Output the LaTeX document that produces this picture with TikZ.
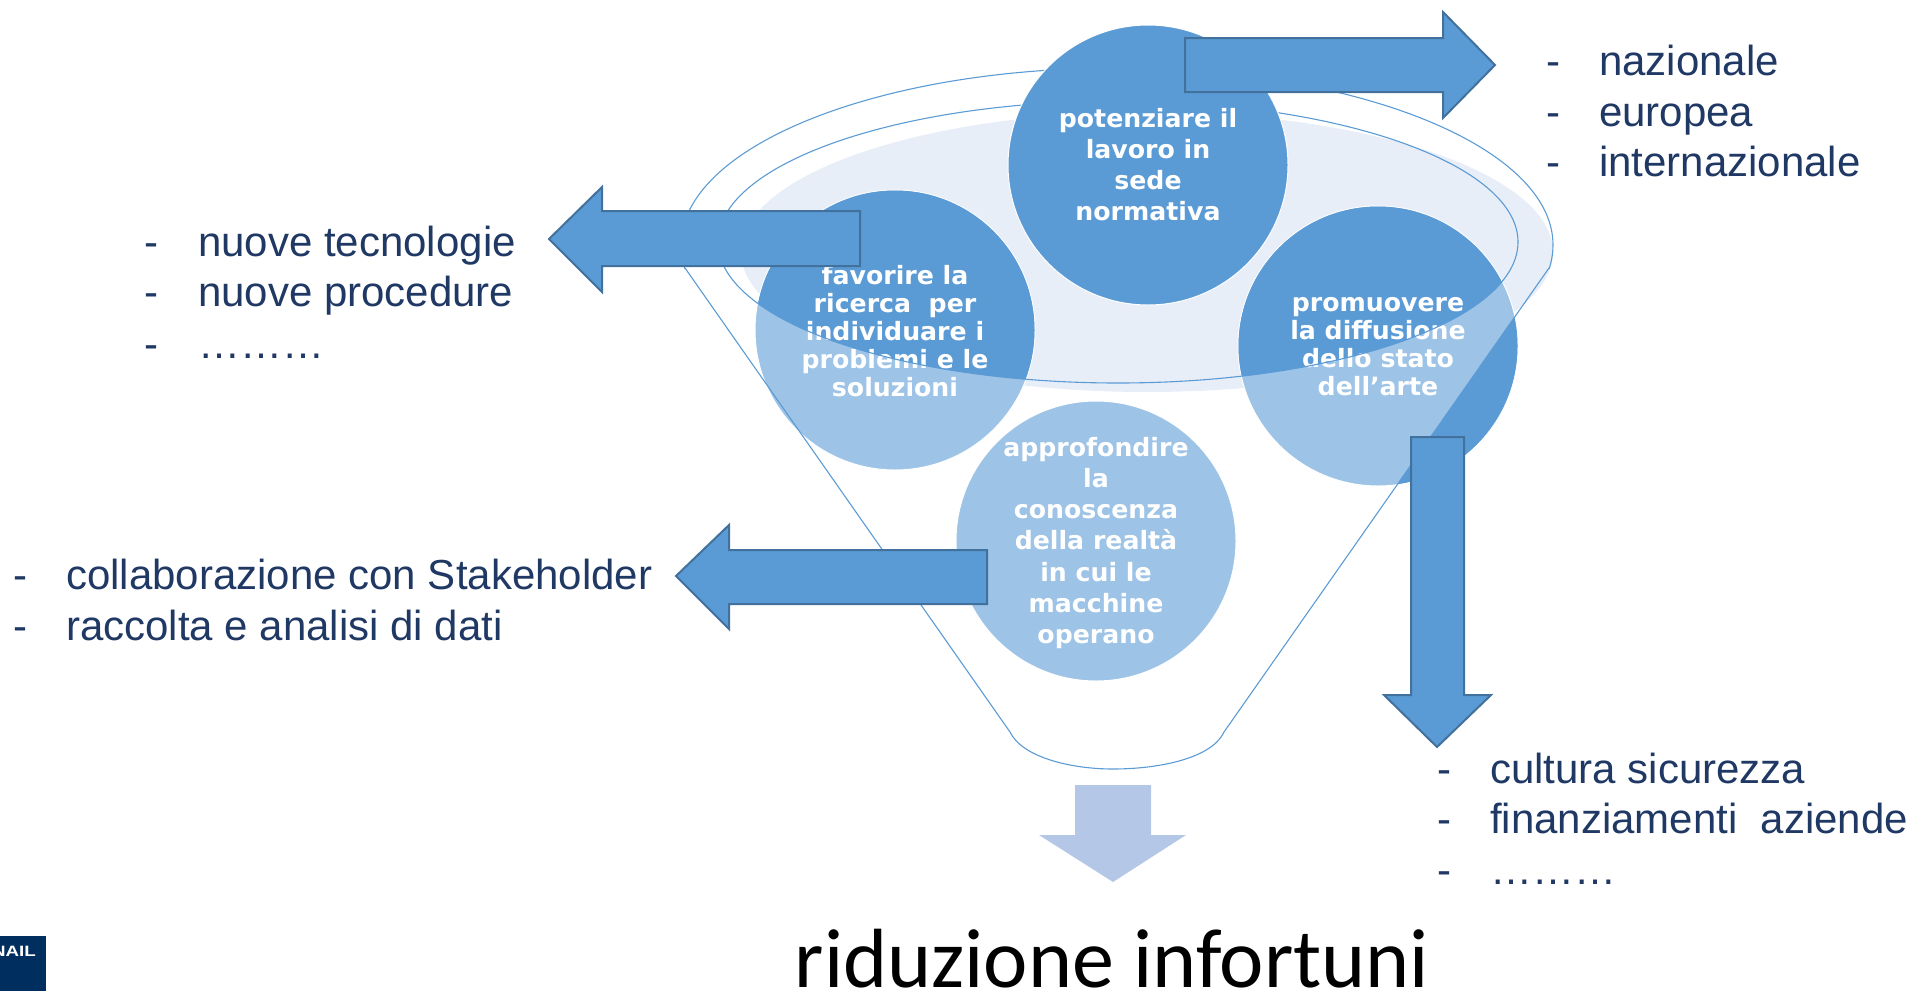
\documentclass[tikz,border=0pt]{standalone}
\usepackage{fontspec}
\setmainfont{Liberation Sans}
\newfontfamily\circlefont{DejaVu Sans}
\newfontfamily\resultfont{Carlito}
\definecolor{darkblue}{HTML}{5B9BD5}
\definecolor{lightblue}{HTML}{9DC3E6}
\definecolor{paleblue}{HTML}{E8EEF8}
\definecolor{edgeblue}{HTML}{41719C}
\definecolor{softblue}{HTML}{B4C7E7}
\definecolor{navytext}{HTML}{203864}
\definecolor{logoblue}{HTML}{002F5F}
\tikzset{
  disc/.style={circle,minimum size=280pt,inner sep=0pt,fill=lightblue,draw=white,line width=1pt},
  disctext/.style={text=white,align=center,font=\circlefont\bfseries\fontsize{25.2}{#1}\selectfont},
  funnelline/.style={draw=darkblue,line width=1.1pt},
  bluearrow/.style={fill=darkblue,draw=edgeblue,line width=2pt,line join=miter},
  listdash/.style={text=navytext,anchor=base west,inner sep=0pt,font=\fontsize{42}{50}\selectfont},
}
\begin{document}
\begin{tikzpicture}[x=1pt,y=-1pt]
  \useasboundingbox (0,0) rectangle (1912,991);

  % bowl
  \fill[paleblue] (1147,252) circle [x radius=406,y radius=140];

  \node[disc] (leftdisc) at (895,330) {};
  \node[disc] (rightdisc) at (1378,346) {};
  \node[disc] (lowdisc) at (1096,541) {};

  \coordinate (rimleft) at (685,268);
  \coordinate (rimright) at (1549,268);
  \coordinate (neckleft) at (1010,732);
  \coordinate (neckright) at (1224,732);

  % darker where the discs are inside the rim
  \begin{scope}
    \clip (1118,242) circle [x radius=400,y radius=141];
    \fill[darkblue] (leftdisc) circle (139.5);
    \fill[darkblue] (rightdisc) circle (139.5);
  \end{scope}
  \begin{scope}
    \clip (rightdisc) circle (139.5);
    \fill[darkblue] (rimright) -- (neckright) -- (1700,732) -- (1700,268) -- cycle;
  \end{scope}

  \node[disctext=28] at (895,331) {favorire la\\ricerca\ \ per\\individuare i\\problemi e le\\soluzioni};
  \node[disctext=28] at (1378,347) {promuovere\\la diffusione\\dello stato\\dell’arte};
  \node[disctext=31.3] at (1096,543) {approfondire\\la\\conoscenza\\della realtà\\in cui le\\macchine\\operano};

  % funnel
  \begin{scope}
    \clip (0,0) rectangle (1912,268);
    \draw[funnelline] (1117,245) circle [x radius=436,y radius=177];
  \end{scope}
  \draw[funnelline] (1118,242) circle [x radius=400,y radius=141];
  \draw[funnelline] (rimleft) -- (neckleft) .. controls (1022,757) and (1070,769) .. (1113,769)
    .. controls (1160,769) and (1212,758) .. (neckright) -- (rimright);

  \node[disc,fill=darkblue,disctext=31] (topdisc) at (1148,165) {potenziare il\\lavoro in\\sede\\normativa};

  % arrows
  \draw[bluearrow] (1185,38) -- (1443,38) -- (1443,12) -- (1495,65) -- (1443,118) -- (1443,92) -- (1185,92) -- cycle;
  \draw[bluearrow] (860,211) -- (602,211) -- (602,187) -- (549,239) -- (602,292) -- (602,266) -- (860,266) -- cycle;
  \draw[bluearrow] (987,550) -- (729,550) -- (729,525) -- (676,576) -- (729,629) -- (729,604) -- (987,604) -- cycle;
  \draw[bluearrow] (1411,437) -- (1464,437) -- (1464,695) -- (1491,695) -- (1437,747) -- (1384,695) -- (1411,695) -- cycle;
  \fill[softblue] (1075,785) -- (1151,785) -- (1151,835) -- (1186,835) -- (1113,882) -- (1039,835) -- (1075,835) -- cycle;

  % lists
  \node[listdash] (dasha) at (1546,75) {-};
  \node[listdash] (lista) at (1599,75) {nazionale};
  \node[listdash] (dashb) at (1546,126) {-};
  \node[listdash] (listb) at (1599,126) {europea};
  \node[listdash] (dashc) at (1546,176) {-};
  \node[listdash] (listc) at (1599,176) {internazionale};

  \node[listdash] (dashd) at (144,256) {-};
  \node[listdash] (listd) at (198,256) {nuove tecnologie};
  \node[listdash] (dashe) at (144,306) {-};
  \node[listdash] (liste) at (198,306) {nuove procedure};
  \node[listdash] (dashf) at (144,358) {-};
  \node[listdash] (listf) at (198,358) {………};

  \node[listdash] (dashg) at (13,589) {-};
  \node[listdash] (listg) at (66,589) {collaborazione con Stakeholder};
  \node[listdash] (dashh) at (13,640) {-};
  \node[listdash] (listh) at (66,640) {raccolta e analisi di dati};

  \node[listdash] (dashi) at (1437,783) {-};
  \node[listdash] (listi) at (1490,783) {cultura sicurezza};
  \node[listdash] (dashj) at (1437,833) {-};
  \node[listdash] (listj) at (1490,833) {finanziamenti\ \ aziende};
  \node[listdash] (dashk) at (1437,884) {-};
  \node[listdash] (listk) at (1490,884) {………};

  \node[anchor=base,inner sep=0pt,font=\resultfont\fontsize{84}{84}\selectfont] (result) at (1112,987) {riduzione infortuni};

  % logo
  \begin{scope}
    \clip (0,936) rectangle (46,991);
    \fill[logoblue] (0,936) rectangle (46,991);
    \node[anchor=base east,inner sep=0pt,text=white,xscale=1.25,transform shape,font=\bfseries\fontsize{15}{15}\selectfont] (logo) at (36,956) {INAIL};
  \end{scope}
\end{tikzpicture}
\end{document}
